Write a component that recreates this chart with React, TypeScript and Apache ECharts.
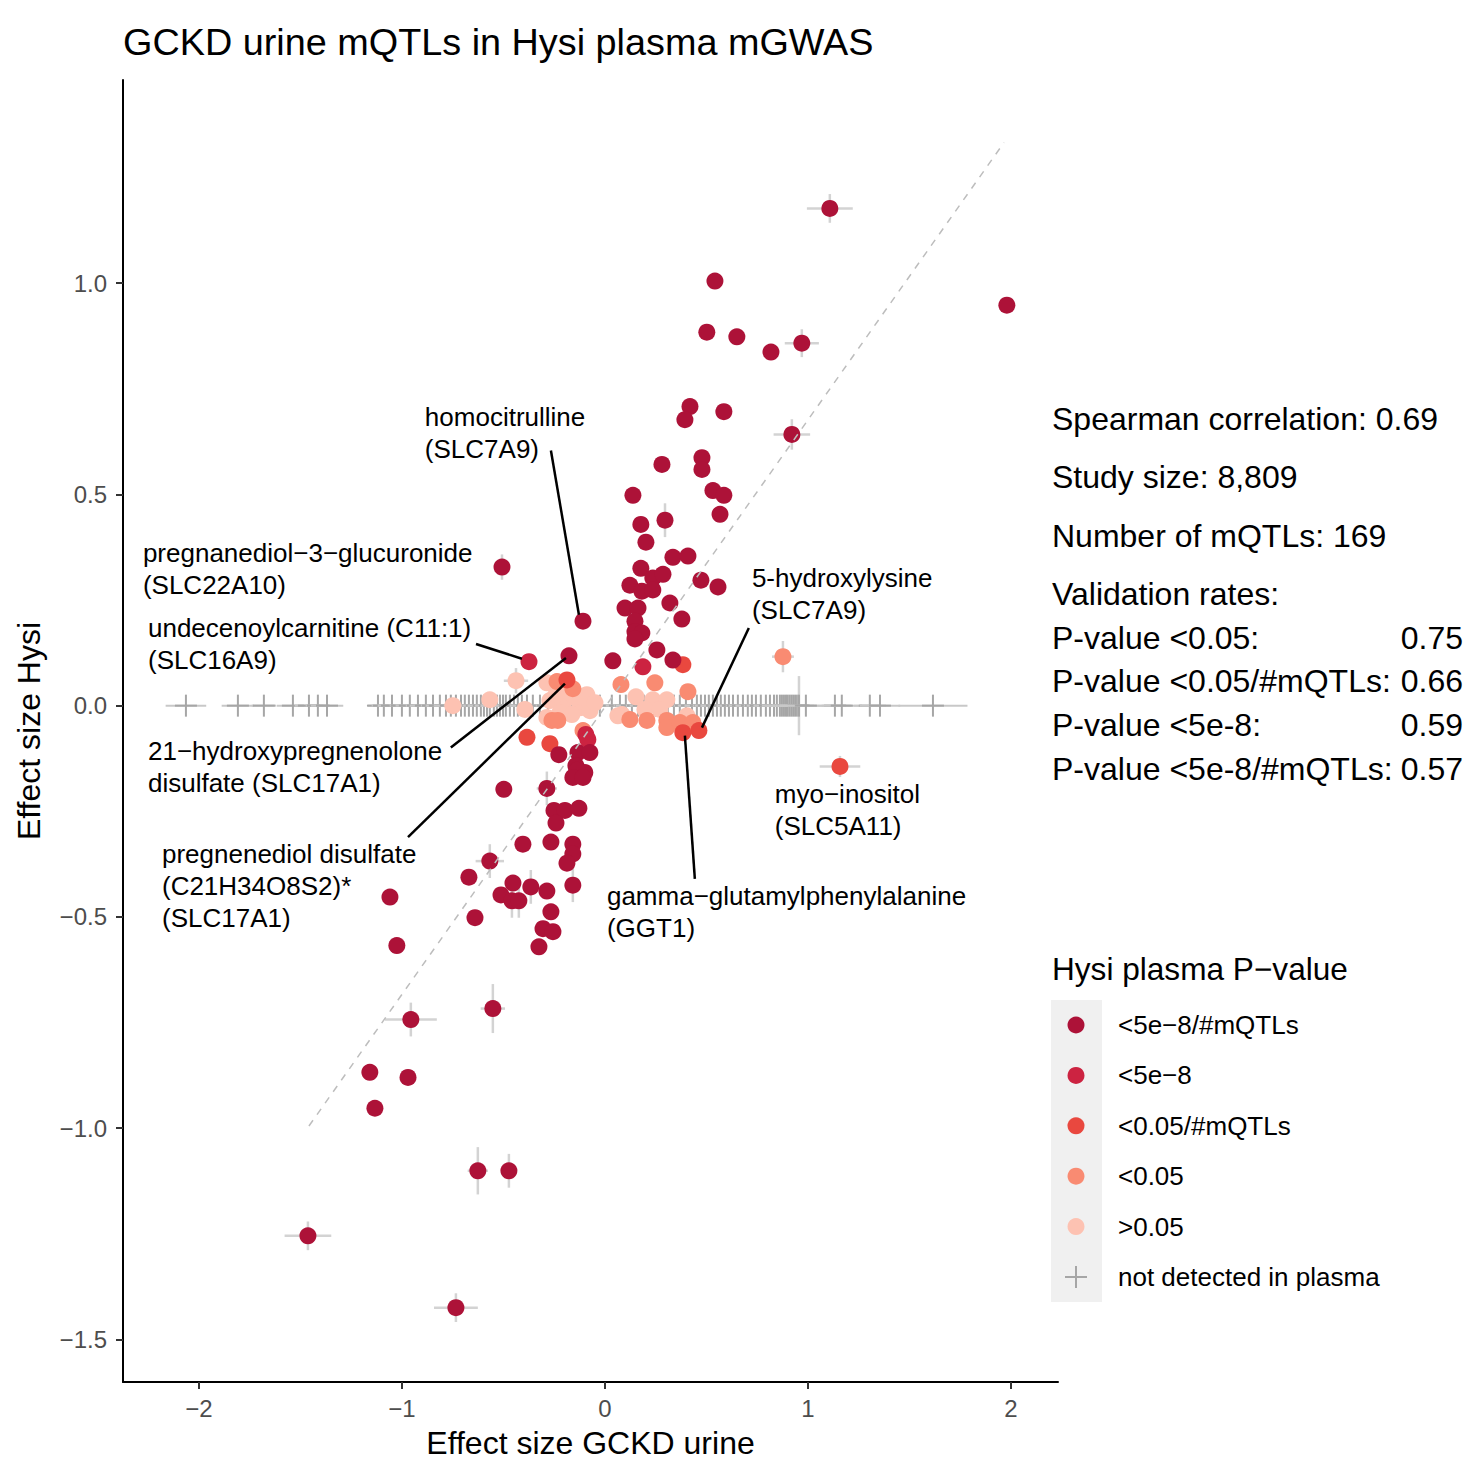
import React, { useEffect, useRef } from "react";
import * as echarts from "echarts";

const FONT = "'Liberation Sans', Arial, Helvetica, sans-serif";

// Hysi plasma P-value classes and their colours
const pCategories = ["<5e−8/#mQTLs", "<5e−8", "<0.05/#mQTLs", "<0.05", ">0.05"];
const pColors = ["#AD1238", "#CC2341", "#E9483F", "#F98B72", "#FDC2B2"];
const notDetectedLabel = "not detected in plasma";

// [GCKD urine effect, Hysi plasma effect]
const pStrongest: number[][] = [
  [1.108, 1.177], [0.542, 1.005], [1.98, 0.948], [0.502, 0.884], [0.65, 0.873], [0.818, 0.837],
  [0.97, 0.858], [0.419, 0.708], [0.394, 0.677], [0.586, 0.696], [0.921, 0.642], [0.281, 0.571],
  [0.478, 0.587], [0.478, 0.559], [0.138, 0.498], [0.532, 0.509], [0.586, 0.498], [0.567, 0.453],
  [0.177, 0.429], [0.296, 0.439], [0.202, 0.387], [0.335, 0.351], [0.409, 0.354], [0.177, 0.325],
  [0.123, 0.285], [0.236, 0.302], [0.286, 0.311], [0.473, 0.297], [0.557, 0.281], [0.182, 0.271],
  [0.236, 0.274], [0.32, 0.243], [0.099, 0.231], [0.163, 0.231], [0.148, 0.2], [0.379, 0.205],
  [0.148, 0.175], [0.182, 0.172], [0.148, 0.158], [0.256, 0.132], [0.039, 0.106], [0.335, 0.108],
  [-0.108, 0.2], [-0.177, 0.118], [-0.507, 0.328],
  [-0.227, -0.116], [-0.133, -0.111], [-0.074, -0.111], [-0.143, -0.142], [-0.099, -0.158],
  [-0.138, -0.153], [-0.158, -0.17], [-0.108, -0.17], [-0.286, -0.196], [-0.498, -0.198],
  [-0.251, -0.248], [-0.197, -0.248], [-0.128, -0.243], [-0.241, -0.278], [-0.404, -0.328],
  [-0.266, -0.323], [-0.158, -0.328], [-0.158, -0.351], [-0.187, -0.373], [-0.567, -0.368],
  [-0.67, -0.406], [-0.453, -0.42], [-0.365, -0.429], [-0.286, -0.439], [-0.158, -0.425],
  [-0.512, -0.448], [-0.458, -0.462], [-0.424, -0.462], [-0.266, -0.488], [-0.305, -0.528],
  [-0.256, -0.535], [-0.325, -0.571], [-0.64, -0.502], [-1.059, -0.453], [-1.025, -0.568],
  [-0.956, -0.743], [-0.552, -0.717], [-1.158, -0.868], [-0.97, -0.88], [-1.133, -0.953],
  [-0.626, -1.101], [-0.473, -1.101], [-1.463, -1.255], [-0.734, -1.425],
];

const pGenomeWide: number[][] = [
  [-0.374, 0.104], [0.187, 0.092], [-0.094, -0.068], [-0.084, -0.08],
];

const pBonferroni: number[][] = [
  [-0.187, 0.061], [0.384, 0.097], [0.463, -0.059], [0.384, -0.064], [1.158, -0.144],
  [-0.384, -0.075], [-0.271, -0.09],
];

const pNominal: number[][] = [
  [0.877, 0.116], [0.079, 0.05], [0.246, 0.054], [0.409, 0.033], [-0.236, 0.057], [-0.158, 0.04],
  [-0.261, -0.035], [-0.232, -0.035], [-0.108, -0.059], [0.123, -0.033], [0.207, -0.035],
  [0.305, -0.035], [0.305, -0.052], [0.369, -0.04], [0.433, -0.04],
];

const pNone: number[][] = [
  [-0.749, 0.0], [-0.567, 0.014], [-0.438, 0.059], [-0.394, -0.009], [-0.286, 0.054],
  [-0.271, 0.012], [-0.207, 0.002], [-0.123, -0.005], [-0.089, 0.026], [-0.074, -0.012],
  [-0.286, -0.028], [-0.163, -0.021], [-0.148, 0.019], [-0.197, 0.031], [-0.222, -0.017],
  [-0.108, 0.019], [-0.049, 0.007], [-0.241, 0.026],
  [0.153, 0.021], [0.236, 0.014], [0.305, 0.014], [0.064, -0.024], [0.084, -0.021],
  [0.404, -0.024], [0.197, -0.009], [0.271, -0.009],
];

const seriesByClass = [pStrongest, pGenomeWide, pBonferroni, pNominal, pNone];

// Confidence intervals: [x, y, x half-width, y half-width]
const ciBars: number[][] = [
  [1.108, 1.177, 0.113, 0.034], [0.97, 0.858, 0.084, 0.033], [0.921, 0.642, 0.09, 0.036],
  [-0.507, 0.328, 0.03, 0.03], [0.296, 0.439, 0.0, 0.04], [0.557, 0.281, 0.03, 0.02],
  [-0.286, -0.196, 0.05, 0.04], [-0.567, -0.368, 0.07, 0.04], [-0.365, -0.429, 0.0, 0.04],
  [-0.158, -0.425, 0.0, 0.04], [-0.458, -0.462, 0.0, 0.04], [-0.424, -0.462, 0.0, 0.04],
  [-0.956, -0.743, 0.128, 0.04], [-0.552, -0.717, 0.06, 0.058], [-0.626, -1.101, 0.05, 0.056],
  [-0.473, -1.101, 0.0, 0.04], [-1.463, -1.255, 0.115, 0.034], [-0.734, -1.425, 0.108, 0.034],
  [1.158, -0.144, 0.1, 0.025], [0.877, 0.116, 0.054, 0.037], [-0.438, 0.059, 0.06, 0.03],
];

// Not detected in plasma: [urine effect, x half-width, y half-width]
const notDetected: number[][] = [
  [-2.064, 0.1, 0], [-1.808, 0.08, 0], [-1.68, 0.06, 0], [-1.537, 0.08, 0], [-1.458, 0.07, 0],
  [-1.414, 0.06, 0], [-1.369, 0.08, 0],
  [-1.118, 0.05, 0], [-1.089, 0.06, 0], [-1.049, 0.07, 0], [-1.0, 0.06, 0], [-0.961, 0.07, 0],
  [-0.921, 0.06, 0], [-0.882, 0.08, 0], [-0.847, 0.06, 0], [-0.813, 0.07, 0], [-0.783, 0.06, 0],
  [-0.759, 0.08, 0], [-0.734, 0.06, 0], [-0.709, 0.07, 0], [-0.69, 0.06, 0], [-0.67, 0.08, 0],
  [-0.65, 0.06, 0], [-0.631, 0.07, 0], [-0.611, 0.06, 0], [-0.596, 0.08, 0], [-0.581, 0.06, 0],
  [-0.567, 0.07, 0], [-0.547, 0.06, 0], [-0.532, 0.08, 0], [-0.517, 0.06, 0], [-0.502, 0.07, 0],
  [-0.488, 0.06, 0], [-0.468, 0.08, 0], [-0.448, 0.06, 0], [-0.429, 0.07, 0], [-0.409, 0.06, 0],
  [-0.384, 0.08, 0], [-0.355, 0.06, 0], [-0.32, 0.07, 0], [-0.281, 0.06, 0], [-0.241, 0.08, 0],
  [-0.197, 0.06, 0], [-0.148, 0.07, 0], [-0.074, 0.06, 0], [-0.025, 0.08, 0],
  [0.034, 0.06, 0], [0.074, 0.07, 0], [0.103, 0.06, 0], [0.133, 0.08, 0], [0.163, 0.06, 0],
  [0.192, 0.07, 0], [0.222, 0.06, 0], [0.251, 0.08, 0], [0.281, 0.06, 0], [0.31, 0.07, 0],
  [0.34, 0.06, 0], [0.369, 0.08, 0], [0.399, 0.06, 0], [0.429, 0.07, 0], [0.453, 0.06, 0],
  [0.473, 0.08, 0], [0.493, 0.06, 0], [0.512, 0.07, 0], [0.532, 0.06, 0], [0.552, 0.08, 0],
  [0.571, 0.06, 0], [0.591, 0.07, 0], [0.611, 0.06, 0], [0.631, 0.08, 0], [0.655, 0.06, 0],
  [0.68, 0.07, 0], [0.704, 0.06, 0], [0.724, 0.08, 0], [0.744, 0.06, 0], [0.768, 0.07, 0],
  [0.793, 0.06, 0], [0.813, 0.08, 0], [0.833, 0.06, 0], [0.847, 0.07, 0], [0.862, 0.06, 0],
  [0.872, 0.08, 0], [0.882, 0.06, 0], [0.892, 0.07, 0], [0.901, 0.06, 0], [0.911, 0.08, 0],
  [0.921, 0.06, 0], [0.931, 0.07, 0], [0.941, 0.06, 0], [0.951, 0.08, 0], [0.956, 0.1, 0.07],
  [0.99, 0.2, 0], [1.133, 0.08, 0], [1.167, 0.1, 0], [1.305, 0.08, 0], [1.355, 0.1, 0],
  [1.616, 0.17, 0],
];

// Dashed reference line end points
const refLine: number[][] = [[-1.458, -0.995], [1.966, 1.333]];

// Labelled metabolites
const annotationTexts = [
  "homocitrulline\n(SLC7A9)",
  "pregnanediol−3−glucuronide\n(SLC22A10)",
  "undecenoylcarnitine (C11:1)\n(SLC16A9)",
  "21−hydroxypregnenolone\ndisulfate (SLC17A1)",
  "pregnenediol disulfate\n(C21H34O8S2)*\n(SLC17A1)",
  "5-hydroxylysine\n(SLC7A9)",
  "myo−inositol\n(SLC5A11)",
  "gamma−glutamylphenylalanine\n(GGT1)",
];
const annotationAnchors: number[][] = [
  [-0.887, 0.684], [-2.276, 0.361], [-2.251, 0.184], [-2.251, -0.108],
  [-2.182, -0.351], [0.724, 0.302], [0.837, -0.21], [0.01, -0.45],
];
const annotationLeaders: (number[] | null)[] = [
  [-0.266, 0.604, -0.128, 0.215],
  null,
  [-0.635, 0.146, -0.409, 0.111],
  [-0.759, -0.099, -0.192, 0.113],
  [-0.97, -0.311, -0.197, 0.052],
  [0.709, 0.184, 0.478, -0.052],
  null,
  [0.443, -0.41, 0.394, -0.071],
];

const xTicks = [-2, -1, 0, 1, 2];
const yTicks = [-1.5, -1, -0.5, 0, 0.5, 1];

const statsHeader = ["Spearman correlation: 0.69", "Study size: 8,809", "Number of mQTLs: 169", "Validation rates:"];
const validationLabels = ["P-value <0.05:", "P-value <0.05/#mQTLs:", "P-value <5e-8:", "P-value <5e-8/#mQTLs:"];
const validationValues = ["0.75", "0.66", "0.59", "0.57"];

const minus = (s: string) => s.replace("-", "−");

function textEl(x: number, y: number, text: string, size: number, align = "left", fill = "#000") {
  return {
    type: "text",
    x,
    y,
    silent: true,
    style: {
      text,
      fontSize: size,
      fontFamily: FONT,
      fill,
      align,
      verticalAlign: "middle",
      textAlign: align,
      textVerticalAlign: "middle",
    },
  };
}

export default function App() {
  const ref = useRef<HTMLDivElement>(null);

  useEffect(() => {
    if (!ref.current) return;
    const chart = echarts.init(ref.current, undefined, { renderer: "svg" });

    const graphics: any[] = [];
    graphics.push(textEl(123, 42, "GCKD urine mQTLs in Hysi plasma mGWAS", 37.8));
    const headerY = [419, 477, 536, 594];
    statsHeader.forEach((t, i) => graphics.push(textEl(1052, headerY[i], t, 32)));
    const valY = [638, 681, 725, 769];
    validationLabels.forEach((t, i) => {
      graphics.push(textEl(1052, valY[i], t, 32));
      graphics.push(textEl(1463, valY[i], validationValues[i], 32, "right"));
    });

    // legend
    graphics.push(textEl(1052, 969, "Hysi plasma P−value", 31.6));
    graphics.push({
      type: "rect",
      silent: true,
      shape: { x: 1051, y: 1000, width: 51, height: 302 },
      style: { fill: "#F0F0F0" },
    });
    const legendY = (i: number) => 1025 + i * 50.4;
    pCategories.forEach((c, i) => {
      graphics.push({
        type: "circle",
        silent: true,
        shape: { cx: 1076, cy: legendY(i), r: 8.5 },
        style: { fill: pColors[i] },
      });
      graphics.push(textEl(1118, legendY(i), c, 26));
    });
    const ly = legendY(5);
    graphics.push({ type: "line", silent: true, shape: { x1: 1065, y1: ly, x2: 1087, y2: ly }, style: { stroke: "#A6A6A6", lineWidth: 2 } });
    graphics.push({ type: "line", silent: true, shape: { x1: 1076, y1: ly - 11, x2: 1076, y2: ly + 11 }, style: { stroke: "#A6A6A6", lineWidth: 2 } });
    graphics.push(textEl(1118, ly, notDetectedLabel, 26));

    const series: any[] = [];

    // confidence intervals of detected metabolites
    series.push({
      type: "custom",
      z: 1,
      silent: true,
      data: ciBars,
      renderItem: (_p: any, api: any) => {
        const x = api.value(0), y = api.value(1), xe = api.value(2), ye = api.value(3);
        const children: any[] = [];
        const st = { stroke: "#D3D3D3", lineWidth: 2.5 };
        if (xe > 0) {
          const a = api.coord([x - xe, y]), b = api.coord([x + xe, y]);
          children.push({ type: "line", shape: { x1: a[0], y1: a[1], x2: b[0], y2: b[1] }, style: st });
        }
        if (ye > 0) {
          const a = api.coord([x, y - ye]), b = api.coord([x, y + ye]);
          children.push({ type: "line", shape: { x1: a[0], y1: a[1], x2: b[0], y2: b[1] }, style: st });
        }
        return { type: "group", children };
      },
    });

    // metabolites not detected in plasma
    series.push({
      type: "custom",
      z: 2,
      silent: true,
      data: notDetected,
      renderItem: (_p: any, api: any) => {
        const x = api.value(0), xe = api.value(1), ye = api.value(2);
        const c = api.coord([x, 0]);
        const l = api.coord([x - xe, 0]);
        const r = api.coord([x + xe, 0]);
        const children: any[] = [
          { type: "line", shape: { x1: l[0], y1: c[1], x2: r[0], y2: c[1] }, style: { stroke: "#C8C8C8", lineWidth: 2 } },
        ];
        if (ye > 0) {
          const t = api.coord([x, ye]), b = api.coord([x, -ye]);
          children.push({ type: "line", shape: { x1: c[0], y1: t[1], x2: c[0], y2: b[1] }, style: { stroke: "#D3D3D3", lineWidth: 2.5 } });
        }
        children.push({ type: "line", shape: { x1: c[0] - 11, y1: c[1], x2: c[0] + 11, y2: c[1] }, style: { stroke: "#A6A6A6", lineWidth: 2 } });
        children.push({ type: "line", shape: { x1: c[0], y1: c[1] - 11, x2: c[0], y2: c[1] + 11 }, style: { stroke: "#A6A6A6", lineWidth: 2 } });
        return { type: "group", children };
      },
    });

    // points, weakest class drawn first
    for (let i = seriesByClass.length - 1; i >= 0; i--) {
      series.push({
        type: "scatter",
        name: pCategories[i],
        z: 3,
        silent: true,
        symbol: "circle",
        symbolSize: 17,
        itemStyle: { color: pColors[i], opacity: 1 },
        data: seriesByClass[i],
      });
    }

    // dashed reference line
    series.push({
      type: "line",
      z: 4,
      silent: true,
      symbol: "none",
      data: refLine,
      lineStyle: { color: "#BDBDBD", width: 1.5, type: [7, 7] },
    });

    // labels with leader lines
    series.push({
      type: "custom",
      z: 5,
      silent: true,
      clip: false,
      data: annotationAnchors.map((p, i) => [p[0], p[1], i]),
      renderItem: (_p: any, api: any) => {
        const i = api.value(2);
        const p = api.coord([api.value(0), api.value(1)]);
        const children: any[] = [
          {
            type: "text",
            x: p[0],
            y: p[1] - 16,
            style: {
              text: annotationTexts[i],
              fontSize: 26,
              lineHeight: 32,
              fontFamily: FONT,
              fill: "#000",
              align: "left",
              verticalAlign: "top",
              textAlign: "left",
              textVerticalAlign: "top",
            },
          },
        ];
        const seg = annotationLeaders[i];
        if (seg) {
          const a = api.coord([seg[0], seg[1]]);
          const b = api.coord([seg[2], seg[3]]);
          children.push({ type: "line", shape: { x1: a[0], y1: a[1], x2: b[0], y2: b[1] }, style: { stroke: "#000", lineWidth: 2.5 } });
        }
        return { type: "group", children };
      },
    });

    chart.setOption({
      animation: false,
      textStyle: { fontFamily: FONT },
      grid: { left: 123, top: 80, width: 935, height: 1307, containLabel: false },
      xAxis: {
        type: "value",
        min: -2.374,
        max: 2.232,
        splitLine: { show: false },
        axisLine: { show: true, onZero: false, lineStyle: { color: "#000", width: 2 } },
        axisTick: { show: true, length: 7, customValues: xTicks, lineStyle: { color: "#333", width: 2 } },
        axisLabel: {
          customValues: xTicks,
          color: "#4D4D4D",
          fontSize: 24,
          margin: 14,
          fontFamily: FONT,
          formatter: (v: number) => minus(String(v)),
        },
        name: "Effect size GCKD urine",
        nameLocation: "middle",
        nameGap: 45,
        nameTextStyle: { color: "#000", fontSize: 32, fontFamily: FONT },
      },
      yAxis: {
        type: "value",
        min: -1.601,
        max: 1.481,
        splitLine: { show: false },
        axisLine: { show: true, onZero: false, lineStyle: { color: "#000", width: 2 } },
        axisTick: { show: true, length: 7, customValues: yTicks, lineStyle: { color: "#333", width: 2 } },
        axisLabel: {
          customValues: yTicks,
          color: "#4D4D4D",
          fontSize: 24,
          margin: 16,
          fontFamily: FONT,
          formatter: (v: number) => minus(v.toFixed(1)),
        },
        name: "Effect size Hysi",
        nameLocation: "middle",
        nameRotate: 90,
        nameGap: 78,
        nameTextStyle: { color: "#000", fontSize: 32, fontFamily: FONT },
      },
      graphic: graphics,
      series,
    });

    return () => chart.dispose();
  }, []);

  return (
    <div
      ref={ref}
      style={{ position: "fixed", left: 0, top: 0, width: 1470, height: 1464, background: "#fff" }}
    />
  );
}
